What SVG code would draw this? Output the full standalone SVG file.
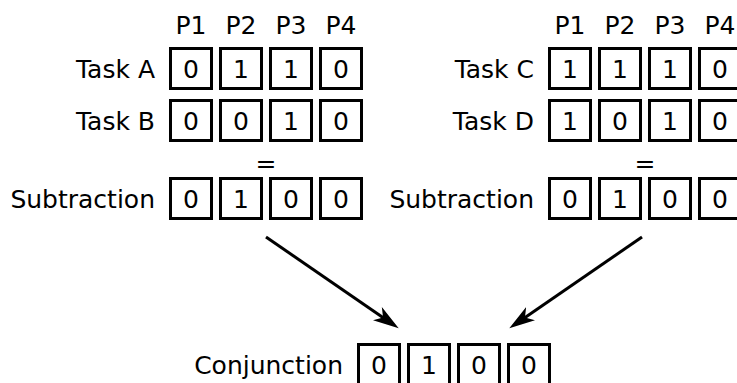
<svg xmlns="http://www.w3.org/2000/svg" width="737" height="383" viewBox="0 0 737 383">
<style>
text{font-family:"DejaVu Sans","Liberation Sans",sans-serif;font-size:25px;fill:#000}
.lbl{text-anchor:end}
.c{text-anchor:middle}
rect.cell{fill:#fff;stroke:#000;stroke-width:3}
.conn{stroke:#000;stroke-width:3;fill:none}
</style>
<defs>
<g id="row">
<rect class="cell" x="1.5" y="1.5" width="41" height="40"/>
<rect class="cell" x="51.5" y="1.5" width="41" height="40"/>
<rect class="cell" x="101.5" y="1.5" width="41" height="40"/>
<rect class="cell" x="151.5" y="1.5" width="41" height="40"/>
</g>
<marker id="ah" markerUnits="userSpaceOnUse" markerWidth="28" markerHeight="18" viewBox="0 -9 28 18" refX="13" refY="0" orient="auto">
<path d="M26,0 L0,-8 L7,0 L0,8 Z" fill="#000"/>
</marker>
</defs>

<g id="left-group">
<g id="left-header">
<text class="c" x="191" y="34">P1</text>
<text class="c" x="241" y="34">P2</text>
<text class="c" x="291" y="34">P3</text>
<text class="c" x="341" y="34">P4</text>
</g>
<g id="task-a">
<text class="lbl" x="155" y="78">Task A</text>
<use href="#row" x="169" y="47"/>
<text class="c" x="191" y="78">0</text>
<text class="c" x="241" y="78">1</text>
<text class="c" x="291" y="78">1</text>
<text class="c" x="341" y="78">0</text>
</g>
<g id="task-b">
<text class="lbl" x="155" y="130">Task B</text>
<use href="#row" x="169" y="99"/>
<text class="c" x="191" y="130">0</text>
<text class="c" x="241" y="130">0</text>
<text class="c" x="291" y="130">1</text>
<text class="c" x="341" y="130">0</text>
</g>
<text id="eq-left" class="c" x="266" y="172">=</text>
<g id="subtraction-left">
<text class="lbl" x="155" y="208">Subtraction</text>
<use href="#row" x="169" y="177"/>
<text class="c" x="191" y="208">0</text>
<text class="c" x="241" y="208">1</text>
<text class="c" x="291" y="208">0</text>
<text class="c" x="341" y="208">0</text>
</g>
</g>

<g id="right-group">
<g id="right-header">
<text class="c" x="570" y="34">P1</text>
<text class="c" x="620" y="34">P2</text>
<text class="c" x="670" y="34">P3</text>
<text class="c" x="720" y="34">P4</text>
</g>
<g id="task-c">
<text class="lbl" x="534" y="78">Task C</text>
<use href="#row" x="548" y="47"/>
<text class="c" x="570" y="78">1</text>
<text class="c" x="620" y="78">1</text>
<text class="c" x="670" y="78">1</text>
<text class="c" x="720" y="78">0</text>
</g>
<g id="task-d">
<text class="lbl" x="534" y="130">Task D</text>
<use href="#row" x="548" y="99"/>
<text class="c" x="570" y="130">1</text>
<text class="c" x="620" y="130">0</text>
<text class="c" x="670" y="130">1</text>
<text class="c" x="720" y="130">0</text>
</g>
<text id="eq-right" class="c" x="645" y="172">=</text>
<g id="subtraction-right">
<text class="lbl" x="534" y="208">Subtraction</text>
<use href="#row" x="548" y="177"/>
<text class="c" x="570" y="208">0</text>
<text class="c" x="620" y="208">1</text>
<text class="c" x="670" y="208">0</text>
<text class="c" x="720" y="208">0</text>
</g>
</g>

<g id="conjunction">
<text class="lbl" x="343" y="374">Conjunction</text>
<use href="#row" x="357" y="343"/>
<text class="c" x="379" y="374">0</text>
<text class="c" x="429" y="374">1</text>
<text class="c" x="479" y="374">0</text>
<text class="c" x="529" y="374">0</text>
</g>

<g id="connectors">
<line class="conn" x1="266" y1="237" x2="388" y2="321" marker-end="url(#ah)"/>
<line class="conn" x1="642" y1="237" x2="520" y2="321" marker-end="url(#ah)"/>
</g>
</svg>
